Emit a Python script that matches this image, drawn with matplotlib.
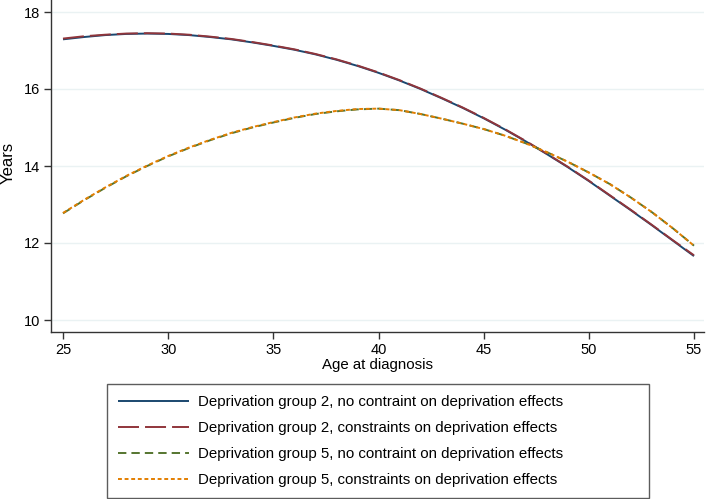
import matplotlib
matplotlib.use("Agg")
import matplotlib.pyplot as plt

plt.rcParams['font.family'] = ['Liberation Sans', 'DejaVu Sans']

ages = list(range(25, 56))
g2_nocon = [17.29, 17.35, 17.40, 17.43, 17.44, 17.43, 17.40, 17.35, 17.29, 17.21,
            17.12, 17.02, 16.90, 16.76, 16.60, 16.42, 16.22, 16.00, 15.76, 15.51,
            15.24, 14.95, 14.64, 14.31, 13.97, 13.61, 13.23, 12.85, 12.46, 12.06,
            11.66]
g2_con = [17.31, 17.37, 17.41, 17.44, 17.45, 17.44, 17.41, 17.36, 17.30, 17.22,
          17.13, 17.03, 16.91, 16.77, 16.61, 16.43, 16.23, 16.01, 15.77, 15.52,
          15.25, 14.96, 14.65, 14.32, 13.98, 13.62, 13.24, 12.86, 12.47, 12.07,
          11.68]
g5_nocon = [12.77, 13.11, 13.43, 13.73, 14.00, 14.25, 14.47, 14.67, 14.85, 15.00,
            15.13, 15.25, 15.35, 15.42, 15.47, 15.49, 15.45, 15.35, 15.23, 15.10,
            14.96, 14.79, 14.59, 14.36, 14.11, 13.83, 13.53, 13.18, 12.80, 12.38,
            11.93]
g5_con = [12.78, 13.12, 13.44, 13.74, 14.01, 14.26, 14.48, 14.68, 14.86, 15.01,
          15.14, 15.26, 15.36, 15.43, 15.48, 15.49, 15.45, 15.35, 15.23, 15.10,
          14.96, 14.79, 14.59, 14.36, 14.11, 13.83, 13.53, 13.18, 12.80, 12.38,
          11.93]

labels = [
    "Deprivation group 2, no contraint on deprivation effects",
    "Deprivation group 2, constraints on deprivation effects",
    "Deprivation group 5, no contraint on deprivation effects",
    "Deprivation group 5, constraints on deprivation effects",
]
xticks = [25, 30, 35, 40, 45, 50, 55]
yticks = [10, 12, 14, 16, 18]

W, H = 706, 499
fig = plt.figure(figsize=(W / 100, H / 100), dpi=100)
ax = fig.add_axes([51 / W, 1 - 332 / H, (704 - 51) / W, 332 / H])

lw = 1.4
l1, = ax.plot(ages, g2_nocon, color='#1a476f', lw=lw, solid_capstyle='butt')
l2, = ax.plot(ages, g2_con, color='#90353b', lw=lw, dashes=(10.8, 3.1), dash_capstyle='butt')
l3, = ax.plot(ages, g5_nocon, color='#55752f', lw=lw, dashes=(4.3, 2.6), dash_capstyle='butt')
l4, = ax.plot(ages, g5_con, color='#e37e00', lw=lw, dashes=(2.0, 1.4), dash_capstyle='butt')

ax.set_xlim(25 - 12 / 21.03, 55 + 10 / 21.03)
ax.set_ylim(10 - 12 / 38.5, 18 + 12 / 38.5)
ax.set_xticks(xticks)
ax.set_yticks(yticks)
ax.grid(axis='y', color='#eaf2f3', lw=1.0)
ax.set_axisbelow(True)
for s in ['top', 'right']:
    ax.spines[s].set_visible(False)
for s in ['left', 'bottom']:
    ax.spines[s].set_color('#333333')
    ax.spines[s].set_linewidth(1.0)
ax.tick_params(direction='out', length=5, width=1.0, color='#333333', labelsize=10.5, pad=3)
ax.set_xlabel("Age at diagnosis", fontsize=10.8, labelpad=1)
ax.set_ylabel("Years", fontsize=12)
ax.yaxis.set_label_coords(16 / W, 1 - 163 / H, transform=fig.transFigure)

leg = fig.legend([l1, l2, l3, l4], labels, loc='upper left',
                 bbox_to_anchor=(107 / W, 1 - 384 / H, (649 - 107) / W, 0.0),
                 bbox_transform=fig.transFigure, mode='expand',
                 fontsize=10.8, handlelength=4.73, handletextpad=0.6, labelspacing=0.79,
                 borderpad=0.76, frameon=True, fancybox=False, borderaxespad=0)
leg.get_frame().set_edgecolor('#333333')
leg.get_frame().set_linewidth(1.0)

fig.savefig("out.png", dpi=100)
